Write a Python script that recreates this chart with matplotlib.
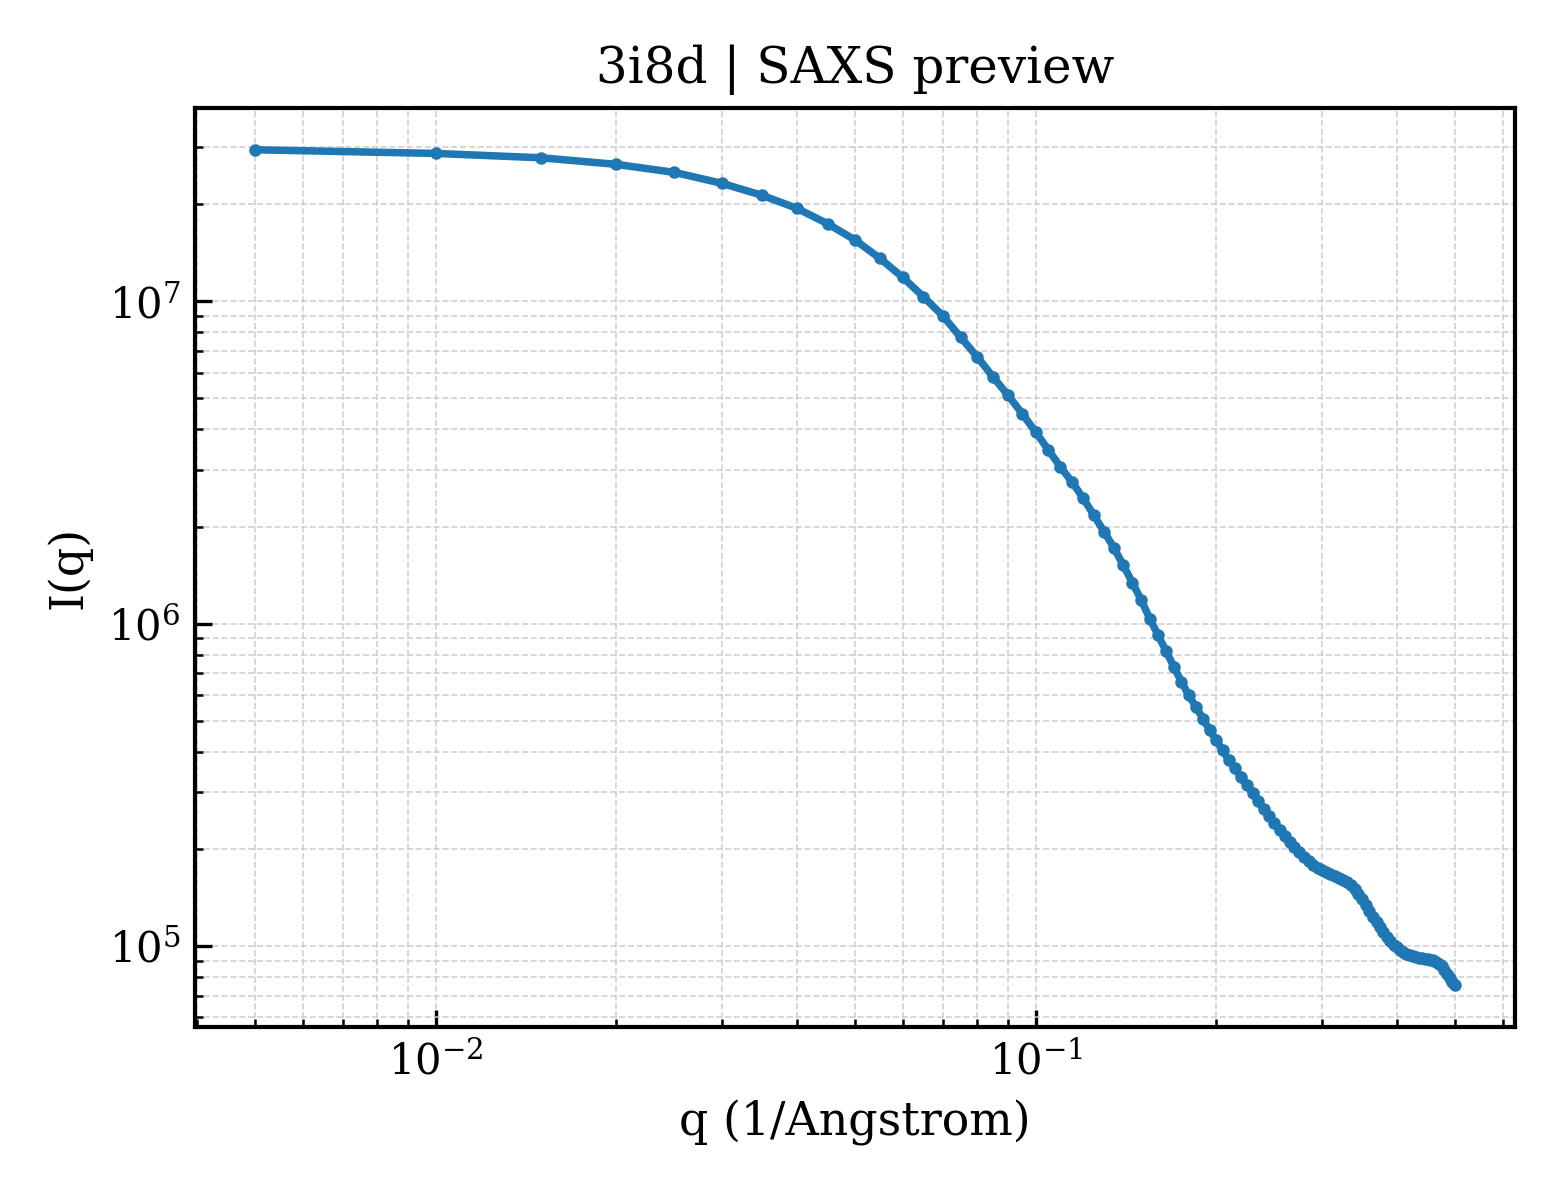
import matplotlib
matplotlib.use("Agg")
import matplotlib.pyplot as plt
import numpy as np

q = [0.005, 0.01, 0.015, 0.02, 0.025, 0.03, 0.035, 0.04, 0.045, 0.05,
     0.055, 0.06, 0.065, 0.07, 0.075, 0.08, 0.085, 0.09, 0.095, 0.1,
     0.105, 0.11, 0.115, 0.12, 0.125, 0.13, 0.135, 0.14, 0.145, 0.15,
     0.155, 0.16, 0.165, 0.17, 0.175, 0.18, 0.185, 0.19, 0.195, 0.2,
     0.205, 0.21, 0.215, 0.22, 0.225, 0.23, 0.235, 0.24, 0.245, 0.25,
     0.255, 0.26, 0.265, 0.27, 0.275, 0.28, 0.285, 0.29, 0.295, 0.3,
     0.305, 0.31, 0.315, 0.32, 0.325, 0.33, 0.335, 0.34, 0.345, 0.35,
     0.355, 0.36, 0.365, 0.37, 0.375, 0.38, 0.385, 0.39, 0.395, 0.4,
     0.405, 0.41, 0.415, 0.42, 0.425, 0.43, 0.435, 0.44, 0.445, 0.45,
     0.455, 0.46, 0.465, 0.47, 0.475, 0.48, 0.485, 0.49, 0.495, 0.5]

intensity = [2.95e7, 2.874e7, 2.786e7, 2.658e7, 2.510e7, 2.321e7, 2.131e7, 1.942e7, 1.740e7, 1.549e7,
             1.359e7, 1.187e7, 1.033e7, 9.02e6, 7.73e6, 6.71e6, 5.81e6, 5.10e6, 4.48e6, 3.93e6,
             3.46e6, 3.06e6, 2.75e6, 2.45e6, 2.17e6, 1.93e6, 1.72e6, 1.516e6, 1.340e6, 1.181e6,
             1.036e6, 9.20e5, 8.21e5, 7.34e5, 6.60e5, 5.99e5, 5.52e5, 5.07e5, 4.67e5, 4.35e5,
             4.04e5, 3.763e5, 3.554e5, 3.333e5, 3.148e5, 2.973e5, 2.808e5, 2.652e5, 2.522e5, 2.400e5,
             2.283e5, 2.187e5, 2.096e5, 2.023e5, 1.952e5, 1.883e5, 1.830e5, 1.779e5, 1.741e5, 1.716e5,
             1.692e5, 1.668e5, 1.644e5, 1.621e5, 1.598e5, 1.575e5, 1.542e5, 1.498e5, 1.446e5, 1.395e5,
             1.337e5, 1.281e5, 1.227e5, 1.184e5, 1.143e5, 1.103e5, 1.064e5, 1.034e5, 1.005e5, 9.91e4,
             9.70e4, 9.56e4, 9.43e4, 9.36e4, 9.29e4, 9.23e4, 9.16e4, 9.16e4, 9.09e4, 9.09e4,
             9.03e4, 9.03e4, 8.90e4, 8.78e4, 8.65e4, 8.41e4, 8.17e4, 7.94e4, 7.72e4, 7.55e4]

title = "3i8d | SAXS preview"
xlabel = "q (1/Angstrom)"
ylabel = "I(q)"

plt.rcParams['font.family'] = ['DejaVu Serif']
plt.rcParams['mathtext.fontset'] = 'dejavuserif'

fig = plt.figure(figsize=(5.2, 4.0), dpi=300)
ax = fig.add_axes([195/1560, 1 - 1027/1200, (1515-195)/1560, (1027-108)/1200])

ax.plot(q, intensity, color='#1f77b4', linewidth=1.8, marker='o', markersize=2.0)
ax.set_xscale('log')
ax.set_yscale('log')

ax.set_title(title, fontsize=12)
ax.set_xlabel(xlabel, fontsize=11)
ax.set_ylabel(ylabel, fontsize=11)

ax.tick_params(which='both', direction='in', labelsize=10)
ax.tick_params(which='major', length=4, width=0.8)
ax.tick_params(which='minor', length=2, width=0.6)
for s in ax.spines.values():
    s.set_linewidth(1.0)

ax.grid(True, which='both', linestyle='--', linewidth=0.4, color='#cccccc', alpha=0.9)
ax.set_axisbelow(True)

fig.savefig("out.png", dpi=300)
